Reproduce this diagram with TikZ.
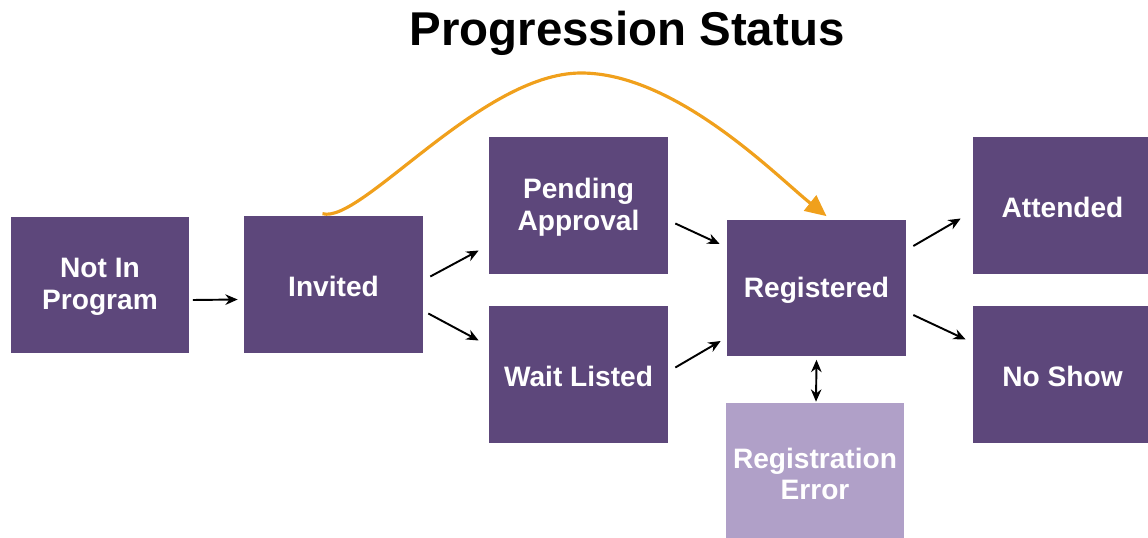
\documentclass[tikz,border=0pt]{standalone}
\usepackage{fontspec}
\setmainfont{Liberation Sans}
\usetikzlibrary{arrows.meta}
\definecolor{stagepurple}{RGB}{93,71,123}
\definecolor{errorpurple}{RGB}{176,160,200}
\definecolor{skiporange}{RGB}{240,160,28}

\begin{document}
\begin{tikzpicture}[x=0.02cm,y=-0.02cm,
    stage/.style={fill=stagepurple,minimum width=3.58cm,minimum height=2.74cm,inner sep=0pt},
    stagetext/.style={text=white,font=\bfseries\fontsize{16}{18}\selectfont,align=center},
    flow/.style={line width=1.1pt,-{Stealth[length=7pt,width=6pt]}},
    flowboth/.style={line width=1.1pt,{Stealth[length=7pt,width=6pt]}-{Stealth[length=7pt,width=6pt]}},
    skip/.style={line width=1.8pt,skiporange,-{Triangle[length=12pt,width=11pt]}}]
    \useasboundingbox (0,0) rectangle (1148,537);
    \clip (0,0) rectangle (1148,537);

    \node[font=\bfseries\fontsize{27}{32}\selectfont,anchor=base] (title) at (627,46) {Progression Status};

    \foreach \x/\y/\n/\t in {100/287/nip/{Not In\\Program},333.5/286.5/inv/Invited,
        578.5/207.5/pend/{Pending\\Approval},578.5/376.5/wait/{Wait Listed},
        816.5/290/reg/Registered,1062.5/207.5/att/Attended,1062.5/376.5/nos/{No Show}} {
        \node[stage,yshift=2*0.02cm] (\n) at (\x,\y) {};
        \node[stagetext] (\n txt) at (\x,\y) {\t};}
    \node[stage,fill=errorpurple] (err) at (815,471.5) {};
    \node[stagetext] (err txt) at (815,474) {Registration\\Error};

    \draw[flow] ([shift={(3,15)}]nip.east) -- ([shift={(-6,15)}]inv.west);
    \draw[flow] ([shift={(7,-8)}]inv.east) -- ([shift={(-10,45)}]pend.west);
    \draw[flow] ([shift={(5,29)}]inv.east) -- ([shift={(-10,-34)}]wait.west);
    \draw[flow] ([shift={(7,18)}]pend.east) -- ([shift={(-7,-44)}]reg.west);
    \draw[flow] ([shift={(7,-7)}]wait.east) -- ([shift={(-6,53)}]reg.west);
    \draw[flow] ([shift={(7,-42)}]reg.east) -- ([shift={(-12,13)}]att.west);
    \draw[flow] ([shift={(7,27)}]reg.east) -- ([shift={(-7,-35)}]nos.west);
    \draw[flowboth] ([shift={(0,3)}]reg.south) -- ([shift={(1,-1)}]err.north);

    % invited can go straight to registered
    \coordinate (top) at (581,73);
    \draw[skip] ([shift={(-11,-2)}]inv.north) .. controls +(38,11) and +(-100,0) .. (top)
        .. controls +(95,0) and +(-50,-40) .. ([shift={(10,-3)}]reg.north);
\end{tikzpicture}
\end{document}
